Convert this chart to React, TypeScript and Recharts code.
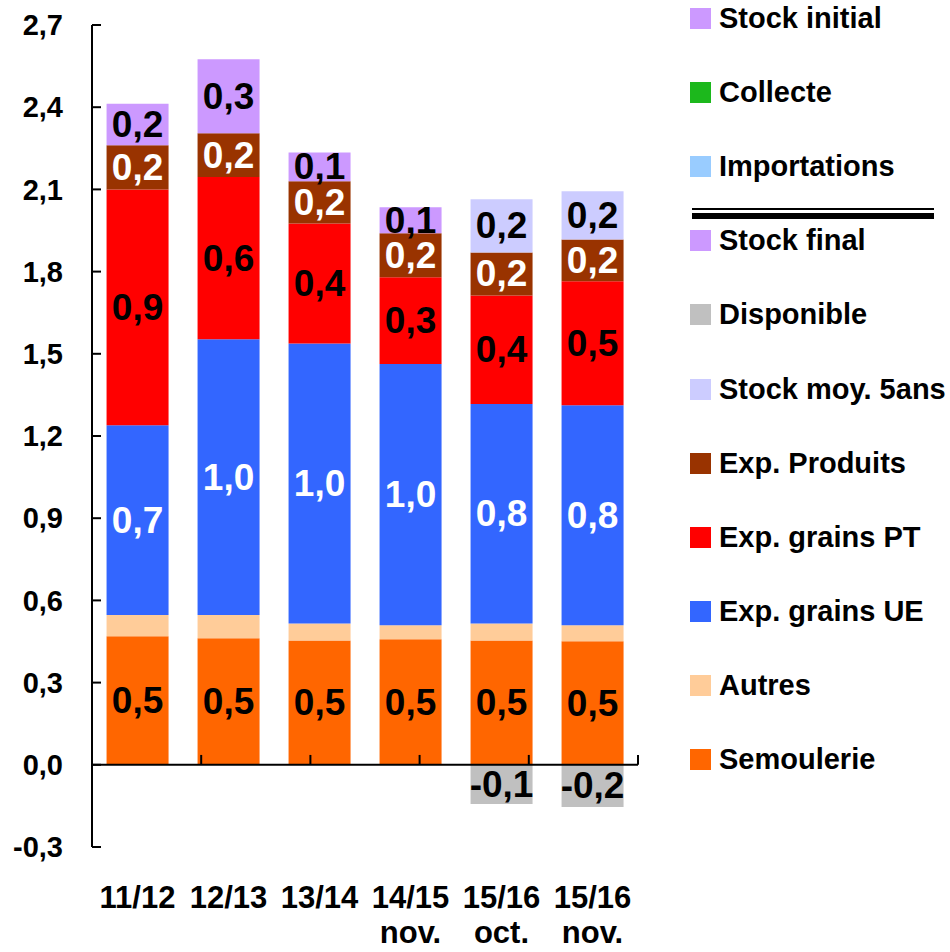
import * as React from "react";
import { Bar, BarChart, LabelList, ReferenceLine, XAxis, YAxis } from "recharts";

const categories = ["11/12", "12/13", "13/14", "14/15\nnov.", "15/16\noct.", "15/16\nnov."];

const semoulerie = [0.469, 0.462, 0.454, 0.458, 0.454, 0.451];
const autres = [0.078, 0.085, 0.062, 0.051, 0.062, 0.058];
const expGrainsUE = [0.692, 1.006, 1.022, 0.954, 0.801, 0.803];
const expGrainsPT = [0.861, 0.592, 0.438, 0.316, 0.396, 0.453];
const expProduits = [0.161, 0.16, 0.154, 0.161, 0.157, 0.152];
const stockFinal = [0.152, 0.27, 0.105, 0.095, null, null];
const stockMoy5ans = [null, null, null, null, 0.194, 0.176];
const disponible = [null, null, null, null, -0.143, -0.154];

const yTicks = [-0.3, 0, 0.3, 0.6, 0.9, 1.2, 1.5, 1.8, 2.1, 2.4, 2.7];
const boundaries = [1, 2, 3, 4, 5, 6];

const FONT = '"Liberation Sans", Arial, Helvetica, sans-serif';

type Series = {
  key: string;
  name: string;
  color: string;
  values: (number | null)[];
  label: string | null;
};

// bottom to top of the stack
const series: Series[] = [
  { key: "semoulerie", name: "Semoulerie", color: "#FF6600", values: semoulerie, label: "#000" },
  { key: "autres", name: "Autres", color: "#FFCC99", values: autres, label: null },
  { key: "ue", name: "Exp. grains UE", color: "#3366FF", values: expGrainsUE, label: "#fff" },
  { key: "pt", name: "Exp. grains PT", color: "#FF0000", values: expGrainsPT, label: "#000" },
  { key: "produits", name: "Exp. Produits", color: "#993300", values: expProduits, label: "#fff" },
  { key: "stockFinal", name: "Stock final", color: "#CC99FF", values: stockFinal, label: "#000" },
  { key: "stockMoy", name: "Stock moy. 5ans", color: "#CCCCFF", values: stockMoy5ans, label: "#000" },
  { key: "disponible", name: "Disponible", color: "#C0C0C0", values: disponible, label: "#000" },
];

const legendTop = [
  { name: "Stock initial", color: "#CC99FF" },
  { name: "Collecte", color: "#1CB81C" },
  { name: "Importations", color: "#99CCFF" },
];
const legendBottom = [
  { name: "Stock final", color: "#CC99FF" },
  { name: "Disponible", color: "#C0C0C0" },
  { name: "Stock moy. 5ans", color: "#CCCCFF" },
  { name: "Exp. Produits", color: "#993300" },
  { name: "Exp. grains PT", color: "#FF0000" },
  { name: "Exp. grains UE", color: "#3366FF" },
  { name: "Autres", color: "#FFCC99" },
  { name: "Semoulerie", color: "#FF6600" },
];

const fmt = (v: number) => v.toFixed(1).replace(".", ",");

const data = categories.map((cat, i) => {
  const row: Record<string, string | number | null> = { cat };
  series.forEach((s) => {
    row[s.key] = s.values[i];
  });
  return row;
});

function barLabel(color: string) {
  return (props: any) => {
    const { x, y, width, height, value } = props;
    if (value == null || value === 0) return null;
    return (
      <text
        x={Number(x) + Number(width) / 2}
        y={Number(y) + Number(height) / 2}
        textAnchor="middle"
        dominantBaseline="central"
        fill={color}
        fontSize={37}
        fontWeight="bold"
        fontFamily={FONT}
      >
        {fmt(Number(value))}
      </text>
    );
  };
}

function CategoryTick(props: any) {
  const { x, y, payload } = props;
  const lines = String(payload.value).split("\n");
  return (
    <text
      x={x}
      y={y}
      textAnchor="middle"
      fill="#000"
      fontSize={31}
      fontWeight="bold"
      fontFamily={FONT}
    >
      {lines.map((line, i) => (
        <tspan key={i} x={x} dy={i === 0 ? 61 : 35}>
          {line}
        </tspan>
      ))}
    </text>
  );
}

function LegendRow({ name, color, top }: { name: string; color: string; top: number }) {
  return (
    <div
      style={{
        position: "absolute",
        left: 0,
        top: top - 20,
        height: 40,
        display: "flex",
        alignItems: "center",
        whiteSpace: "nowrap",
      }}
    >
      <span style={{ width: 21, height: 21, background: color, display: "inline-block" }} />
      <span
        style={{
          marginLeft: 8,
          fontFamily: FONT,
          fontWeight: "bold",
          fontSize: 29,
          color: "#000",
        }}
      >
        {name}
      </span>
    </div>
  );
}

export default function App() {
  const rows = [...legendTop, ...legendBottom];
  return (
    <div
      style={{
        position: "absolute",
        left: 0,
        top: 0,
        width: 950,
        height: 952,
        background: "#fff",
        overflow: "hidden",
      }}
    >
      <BarChart
        width={950}
        height={952}
        data={data}
        stackOffset="sign"
        barCategoryGap="16%"
        margin={{ top: 25, right: 312, bottom: 0, left: 0 }}
      >
        <XAxis
          dataKey="cat"
          height={105}
          axisLine={false}
          tickLine={false}
          tickSize={0}
          tickMargin={0}
          interval={0}
          tick={<CategoryTick />}
        />
        <XAxis xAxisId="grid" type="number" domain={[0, 6]} hide />
        <YAxis
          width={92}
          domain={[-0.3, 2.7]}
          ticks={yTicks}
          interval={0}
          tickFormatter={(v: number) => fmt(v)}
          axisLine={{ stroke: "#000", strokeWidth: 2 }}
          tickLine={{ stroke: "#000", strokeWidth: 2 }}
          tickSize={-9}
          tickMargin={38}
          tick={{ fill: "#000", fontSize: 29, fontWeight: "bold", fontFamily: FONT }}
        />
        {series.map((s) => (
          <Bar
            key={s.key}
            dataKey={s.key}
            name={s.name}
            stackId="a"
            fill={s.color}
            isAnimationActive={false}
          >
            {s.label ? <LabelList dataKey={s.key} content={barLabel(s.label)} /> : null}
          </Bar>
        ))}
        <ReferenceLine y={0} stroke="#000" strokeWidth={2} />
        {boundaries.map((b) => (
          <ReferenceLine
            key={b}
            xAxisId="grid"
            segment={[
              { x: b, y: 0 },
              { x: b, y: 0.036 },
            ]}
            stroke="#000"
            strokeWidth={2}
          />
        ))}
      </BarChart>
      <div style={{ position: "absolute", left: 690, top: 0, width: 260, height: 952 }}>
        {rows.map((r, i) => (
          <LegendRow key={r.name} name={r.name} color={r.color} top={18.5 + i * 74.1} />
        ))}
        <div
          style={{
            position: "absolute",
            left: 2,
            top: 208,
            width: 242,
            height: 2,
            background: "#000",
          }}
        />
        <div
          style={{
            position: "absolute",
            left: 2,
            top: 213,
            width: 242,
            height: 6,
            background: "#000",
          }}
        />
      </div>
    </div>
  );
}
